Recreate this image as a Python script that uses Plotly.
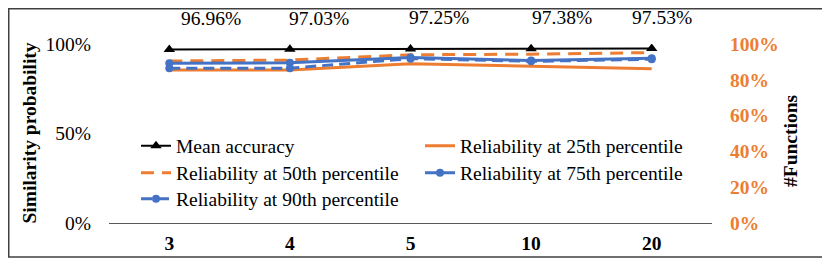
import plotly.graph_objects as go

# ---- data ----
categories = ["3", "4", "5", "10", "20"]
mean_accuracy = [0.9696, 0.9703, 0.9725, 0.9738, 0.9753]
mean_labels = ["96.96%", "97.03%", "97.25%", "97.38%", "97.53%"]
rel_p25 = [0.855, 0.855, 0.890, 0.875, 0.862]
rel_p50 = [0.905, 0.910, 0.940, 0.943, 0.952]
rel_p75 = [0.893, 0.895, 0.925, 0.908, 0.920]
rel_p90 = [0.865, 0.865, 0.918, 0.903, 0.915]
left_ticks = [0, 0.5, 1.0]
right_ticks = [0, 0.2, 0.4, 0.6, 0.8, 1.0]

# ---- style ----
OFF = 8  # page body margin
W, H = 830 - OFF, 260 - OFF
# plot area in page pixels: x 109..712, y 44..223
PL, PR, PT, PB = 109, 712, 44, 223
ML, MT = PL - OFF, PT - OFF
MR, MB = W - (PR - OFF), H - (PB - OFF)
PW, PH = PR - PL, PB - PT
FONT = "Liberation Serif"
FS = 19.5
ORANGE = "#ED7D31"
BLUE = "#4472C4"
label_xshift = [42, 29, 28, 31, 10]


def px(xp):
    return (xp - PL) / PW


def py(yp):
    return (PB - yp) / PH


fig = go.Figure()
fig.add_trace(go.Scatter(x=categories, y=mean_accuracy, name="Mean accuracy",
                         mode="lines+markers", line=dict(color="black", width=2),
                         marker=dict(symbol="triangle-up", size=10, color="black"),
                         legend="legend"))
fig.add_trace(go.Scatter(x=categories, y=rel_p25, name="Reliability at 25th percentile",
                         mode="lines", line=dict(color=ORANGE, width=3),
                         legend="legend"))
fig.add_trace(go.Scatter(x=categories, y=rel_p50, name="Reliability at 50th percentile",
                         mode="lines", line=dict(color=ORANGE, width=3, dash="13px,8px"),
                         legend="legend2"))
fig.add_trace(go.Scatter(x=categories, y=rel_p75, name="Reliability at 75th percentile",
                         mode="lines+markers", line=dict(color=BLUE, width=3),
                         marker=dict(symbol="circle", size=8, color=BLUE),
                         legend="legend2"))
fig.add_trace(go.Scatter(x=categories, y=rel_p90, name="Reliability at 90th percentile",
                         mode="lines+markers", line=dict(color=BLUE, width=3, dash="11px,6px"),
                         marker=dict(symbol="circle", size=8, color=BLUE),
                         legend="legend3", yaxis="y2"))

for i, (v, t, dx) in enumerate(zip(mean_accuracy, mean_labels, label_xshift)):
    fig.add_annotation(x=i, y=v, xref="x", yref="y", text=t, showarrow=False,
                       xanchor="center", yanchor="middle", xshift=dx, yshift=31,
                       font=dict(family=FONT, size=FS, color="black"))

fig.add_annotation(x=px(29), y=0.5, xref="paper", yref="paper",
                   text="<b>Similarity probability</b>", textangle=-90, showarrow=False,
                   xanchor="center", yanchor="middle",
                   font=dict(family=FONT, size=FS, color="black"))
fig.add_annotation(x=px(790), y=py(141), xref="paper", yref="paper",
                   text="<b>#Functions</b>", textangle=-90, showarrow=False,
                   xanchor="center", yanchor="middle",
                   font=dict(family=FONT, size=FS, color="black"))

# chart-area border
fig.add_shape(type="rect", xref="paper", yref="paper",
              x0=px(OFF + 0.75), x1=px(828), y0=py(257), y1=py(OFF + 0.75),
              line=dict(color="#404040", width=1.5), fillcolor="rgba(0,0,0,0)")

leg_common = dict(orientation="h", xanchor="left", yanchor="middle",
                  font=dict(family=FONT, size=FS, color="black"),
                  bgcolor="rgba(0,0,0,0)", entrywidth=239, entrywidthmode="pixels",
                  itemclick=False)
lx = px(136)
fig.update_layout(
    width=W, height=H,
    margin=dict(l=ML, r=MR, t=MT, b=MB, autoexpand=False),
    paper_bgcolor="white", plot_bgcolor="white",
    showlegend=True,
    legend=dict(x=lx, y=py(146), **leg_common),
    legend2=dict(x=lx, y=py(173), **leg_common),
    legend3=dict(x=lx, y=py(199), **leg_common),
    xaxis=dict(type="category", range=[-0.5, 4.5], showgrid=False, zeroline=False,
               showline=True, linecolor="#595959", linewidth=1, ticks="",
               tickfont=dict(family=FONT, size=FS, color="black", weight="bold"),
               ticklabelstandoff=3, automargin=False),
    yaxis=dict(range=[0, 1], tickvals=left_ticks, tickformat=".0%", showgrid=False,
               zeroline=False, showline=False, ticks="",
               tickfont=dict(family=FONT, size=FS, color="black"),
               ticklabelstandoff=17, automargin=False),
    yaxis2=dict(range=[0, 1], tickvals=right_ticks, tickformat=".0%", overlaying="y",
                side="right", showgrid=False, zeroline=False, showline=False, ticks="",
                tickfont=dict(family=FONT, size=FS, color=ORANGE, weight="bold"),
                ticklabelstandoff=17, automargin=False),
)

fig.write_html("out.html")
